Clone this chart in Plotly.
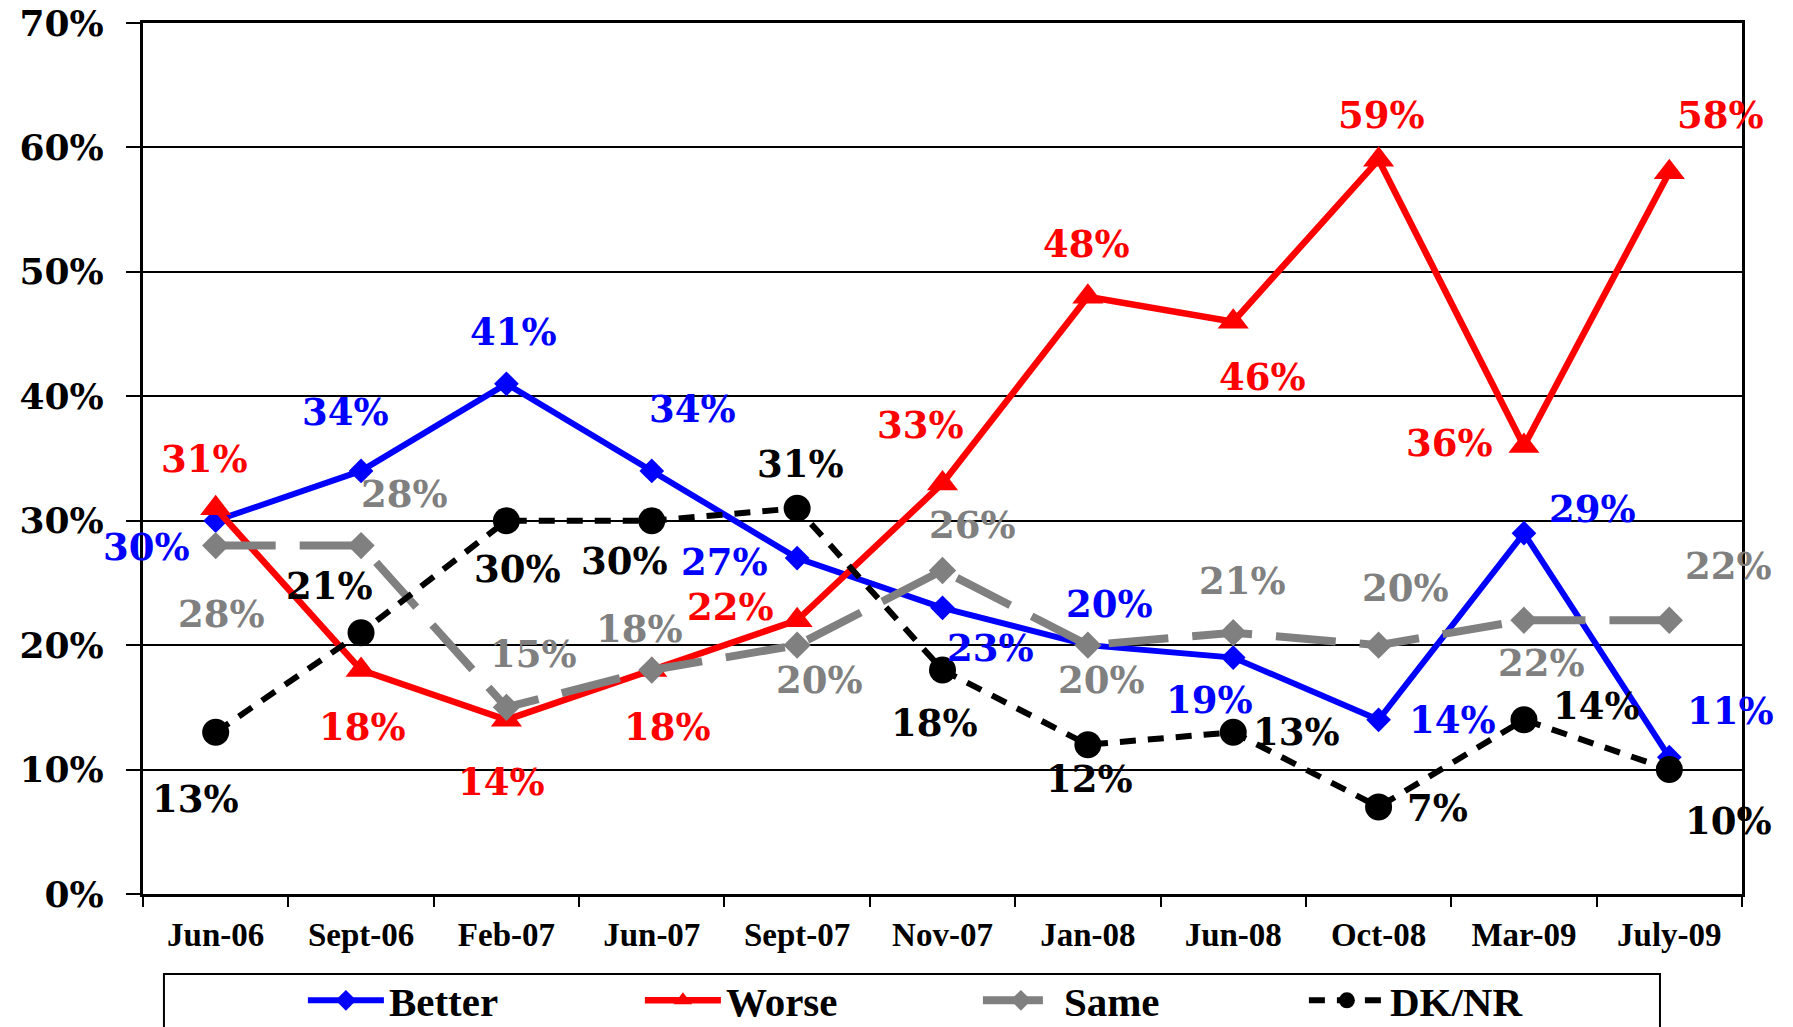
import plotly.graph_objects as go

categories = ["Jun-06", "Sept-06", "Feb-07", "Jun-07", "Sept-07", "Nov-07",
              "Jan-08", "Jun-08", "Oct-08", "Mar-09", "July-09"]
better = [30, 34, 41, 34, 27, 23, 20, 19, 14, 29, 11]
worse = [31, 18, 14, 18, 22, 33, 48, 46, 59, 36, 58]
same = [28, 28, 15, 18, 20, 26, 20, 21, 20, 22, 22]
dknr = [13, 21, 30, 30, 31, 18, 12, 13, 7, 14, 10]
y_ticks = [0, 10, 20, 30, 40, 50, 60, 70]

# label offsets in pixels (dx right, dy down) per point
better_off = [(-69, 26), (-16, -59), (7, -52), (41, -62), (-73, 4), (48, 40),
              (22, -41), (-24, 42), (74, 0), (69, -24), (61, -46)]
worse_off = [(-11, -49), (1, 57), (-5, 62), (16, 57), (-67, -13), (-22, -58),
             (-1, -53), (29, 55), (3, -45), (-74, -3), (51, -57)]
same_off = [(6, 68), (43, -52), (27, -53), (-12, -41), (22, 35), (30, -45),
            (14, 35), (9, -52), (27, -57), (18, 43), (59, -54)]
dknr_off = [(-20, 67), (-32, -47), (11, 48), (-27, 40), (3, -44), (-8, 53),
            (2, 34), (63, 0), (59, 1), (73, -14), (59, 51)]

BLUE = "#0000FF"
RED = "#FF0000"
GREY = "#808080"
BLACK = "#000000"
NUM_FONT = "DejaVu Serif"
TXT_FONT = "Liberation Serif"

ITEMW = 76
series = [
    ("Better", better, BLUE, dict(width=6), dict(symbol="diamond", size=19), better_off, 332),
    ("Worse", worse, RED, dict(width=6.5), dict(symbol="triangle-up", size=27), worse_off, 333),
    ("Same", same, GREY, dict(width=8, dash="60px,24px"), dict(symbol="diamond", size=21), same_off, 321),
    ("DK/NR", dknr, BLACK, dict(width=6, dash="16px,12px"), dict(symbol="circle", size=27), dknr_off, 300),
]

fig = go.Figure()
annotations = []
for name, vals, color, line, marker, offs, lw in series:
    fig.add_trace(go.Scatter(
        x=categories, y=vals, name=name, mode="lines+markers",
        line=dict(color=color, **line),
        marker=dict(color=color, **marker),
        legendwidth=lw - (ITEMW + 10),
    ))
    for c, v, (dx, dy) in zip(categories, vals, offs):
        annotations.append(dict(
            x=c, y=v, xref="x", yref="y", text=f"{v}%", showarrow=False,
            xshift=dx, yshift=-dy,
            font=dict(family=NUM_FONT, size=37, color=color, weight="bold"),
        ))

W, H = 1793, 1027
fig.update_layout(
    width=W, height=H,
    margin=dict(l=143, r=51, t=23, b=133, autoexpand=False),
    paper_bgcolor="white", plot_bgcolor="white",
    showlegend=True,
    legend=dict(
        orientation="h", x=0.1, xanchor="left", y=-0.1225, yanchor="middle",
        font=dict(family=TXT_FONT, size=41, color=BLACK, weight="bold"),
        bgcolor="rgba(0,0,0,0)", borderwidth=0, itemwidth=ITEMW,
    ),
    annotations=annotations,
    shapes=[dict(type="rect", xref="paper", yref="paper",
                 x0=0.0131, x1=0.9487, y0=-0.25, y1=-0.0918,
                 line=dict(color=BLACK, width=2), fillcolor="rgba(0,0,0,0)")],
)

fig.update_xaxes(
    type="category", range=[-0.5, len(categories) - 0.5],
    showline=True, linecolor=BLACK, linewidth=3, mirror=True,
    ticks="outside", tickson="boundaries", ticklen=10, tickwidth=2, tickcolor=BLACK,
    showgrid=False,
    tickfont=dict(family=TXT_FONT, size=33, color=BLACK, weight="bold"),
    ticklabelstandoff=9,
)
fig.update_yaxes(
    range=[0, 70], tickvals=y_ticks, ticktext=[f"{t}%" for t in y_ticks],
    showline=True, linecolor=BLACK, linewidth=3, mirror=True,
    ticks="outside", ticklen=14, tickwidth=2, tickcolor=BLACK,
    showgrid=True, gridcolor=BLACK, gridwidth=2, zeroline=False,
    tickfont=dict(family=NUM_FONT, size=36, color=BLACK, weight="bold"),
    ticklabelstandoff=15, ticklabeloverflow="allow",
)

# remove the browser's default 8px body margin so the figure fills the window
fig.write_html("out.html",
               config={"displayModeBar": False},
               post_script="document.body.style.margin='0';document.body.style.overflow='hidden';")
